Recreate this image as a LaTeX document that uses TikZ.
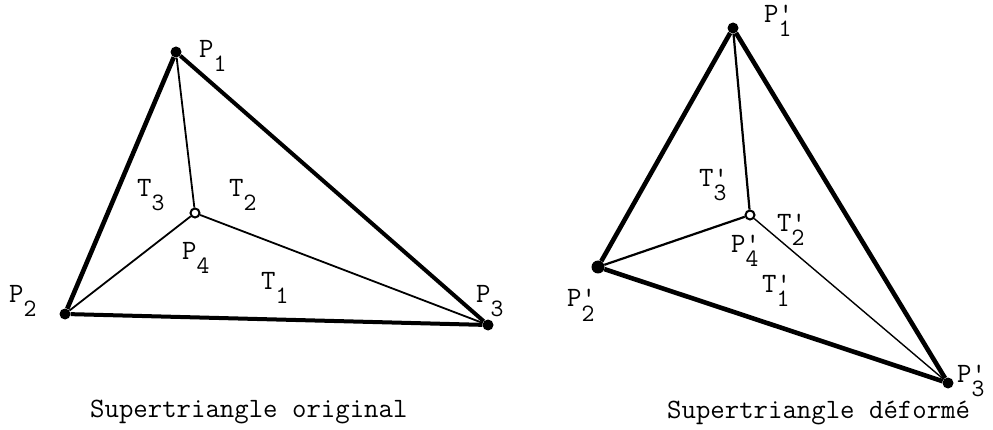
\documentclass[tikz,border=0pt]{standalone}
\usepackage{fontspec}
\usepackage{tikz}
\newcommand\lsub[1]{\raisebox{-14pt}{\fontsize{25}{25}\selectfont #1}}
\newcommand\lprsub[1]{\rlap{'}\raisebox{-14pt}{\fontsize{25}{25}\selectfont #1}}

\begin{document}
\begin{tikzpicture}[x=1pt, y=-1pt, every node/.style={font=\ttfamily\fontsize{28}{30}\selectfont}, outer/.style={line width=4pt, line join=round}, inner/.style={line width=1.8pt}, vtx/.style={circle, fill, inner sep=0pt, minimum size=11pt}, cvtx/.style={circle, draw, line width=2pt, fill=white, inner sep=0pt, minimum size=9pt}, lbl/.style={inner sep=0pt, anchor=base west}, caption/.style={inner sep=0pt, anchor=base west}]
\useasboundingbox (0,0) rectangle (993,430);
% original supertriangle
\node[vtx] (p1) at (176,52) {};
\node[vtx] (p2) at (65,314) {};
\node[vtx] (p3) at (488,325) {};
\node[cvtx] (p4) at (195,213) {};
\draw[outer] (p2) -- (p3) -- (p1);
\draw[outer, line width=4.6pt] (p1) -- (p2);
\draw[inner] (p1) -- (p4);
\draw[inner] (p2) -- (p4);
\draw[inner] (p3) -- (p4);
\node[lbl] (lp1) at (199,58) {P\lsub{1}};
\node[lbl] (lp2) at (9,302) {P\lsub{2}};
\node[lbl] (lp3) at (476,302) {P\lsub{3}};
\node[lbl] (lp4) at (182,260) {P\lsub{4}};
\node[lbl] (lt1) at (261,290) {T\lsub{1}};
\node[lbl] (lt2) at (229,197) {T\lsub{2}};
\node[lbl] (lt3) at (137,197) {T\lsub{3}};
\node[caption] (cap1) at (90,417) {Supertriangle original};
% deformed supertriangle
\node[vtx] (q1) at (733,28) {};
\node[vtx, minimum size=13pt] (q2) at (598,267) {};
\node[vtx] (q3) at (948,383) {};
\node[cvtx] (q4) at (750,215) {};
\draw[outer, line width=4.6pt] (q1) -- (q2) -- (q3) -- (q1);
\draw[inner, line width=2.2pt] (q1) -- (q4);
\draw[inner, line width=2.2pt] (q2) -- (q4);
\draw[inner, line width=1.4pt] (q3) -- (q4);
\node[lbl] (lq1) at (764,23) {P\lprsub{1}};
\node[lbl] (lq2) at (567,307) {P\lprsub{2}};
\node[lbl] (lq3) at (957,382) {P\lprsub{3}};
\node[lbl] (lq4) at (731,253) {P\lprsub{4}};
\node[lbl] (lt1q) at (762,293) {T\lprsub{1}};
\node[lbl] (lt2q) at (777,232) {T\lprsub{2}};
\node[lbl] (lt3q) at (699,187) {T\lprsub{3}};
\node[caption] (cap2) at (667,418) {Supertriangle déformé};
\end{tikzpicture}
\end{document}
